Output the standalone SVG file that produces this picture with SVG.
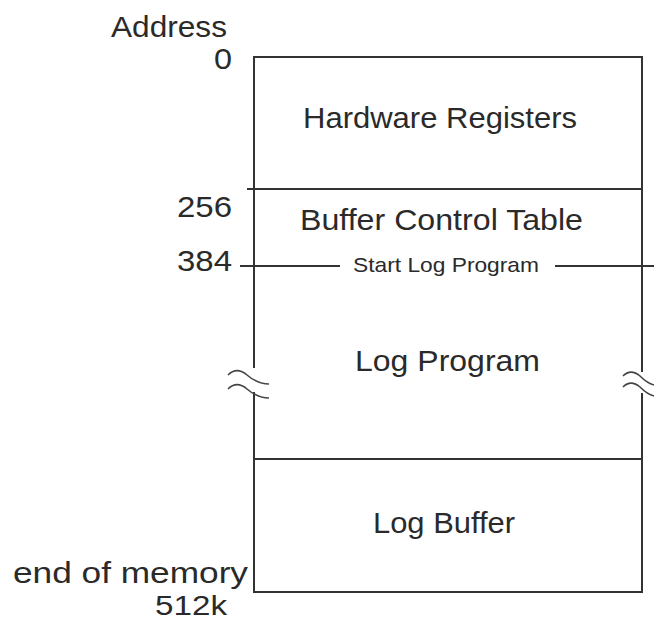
<svg xmlns="http://www.w3.org/2000/svg" width="654" height="623" viewBox="0 0 654 623">
  <style>
    .t { font-family: "Liberation Sans", Arial, sans-serif; font-size: 30px; fill: #2a2a2a; }
    .s { font-size: 21px; }
    .ln { stroke: #333; stroke-width: 2; fill: none; }
    .wave { stroke: #444; stroke-width: 1.6; fill: none; }
  </style>
  <rect width="654" height="623" fill="#fff"/>

  <!-- address labels -->
  <g id="addresses">
    <text class="t" x="111" y="37" textLength="116" lengthAdjust="spacingAndGlyphs">Address</text>
    <text class="t" x="214" y="69" textLength="18" lengthAdjust="spacingAndGlyphs">0</text>
    <text class="t" x="177" y="217" textLength="55" lengthAdjust="spacingAndGlyphs">256</text>
    <text class="t" x="177" y="271" textLength="55" lengthAdjust="spacingAndGlyphs">384</text>
    <text class="t" x="13" y="583" textLength="235" lengthAdjust="spacingAndGlyphs">end of memory</text>
    <text class="t" x="155" y="615" style="font-size:28px" textLength="72" lengthAdjust="spacingAndGlyphs">512k</text>
  </g>

  <!-- memory map outline -->
  <g id="memory-map">
    <path class="ln" d="M254 368 V57 H642 V372"/>
    <path class="ln" d="M254 392 V592 H642 V393"/>
  </g>

  <g id="hardware-registers">
    <text class="t" x="303" y="128" textLength="274" lengthAdjust="spacingAndGlyphs">Hardware Registers</text>
  </g>

  <g id="buffer-control-table">
    <line class="ln" x1="247" y1="189" x2="642" y2="189"/>
    <text class="t" x="300" y="230" textLength="283" lengthAdjust="spacingAndGlyphs">Buffer Control Table</text>
  </g>

  <g id="log-program">
    <line class="ln" x1="240" y1="266" x2="340" y2="266"/>
    <line class="ln" x1="555" y1="266" x2="654" y2="266"/>
    <text class="t s" x="353" y="272" textLength="186" lengthAdjust="spacingAndGlyphs">Start Log Program</text>
    <text class="t" x="355" y="371" textLength="185" lengthAdjust="spacingAndGlyphs">Log Program</text>
  </g>

  <g id="log-buffer">
    <line class="ln" x1="254" y1="459" x2="642" y2="459"/>
    <text class="t" x="373" y="533" textLength="142" lengthAdjust="spacingAndGlyphs">Log Buffer</text>
  </g>

  <!-- break marks on the sides of the Log Program region -->
  <g id="breaks">
    <path class="wave" d="M228 375 C234 369 240 369 247 375 C254 381 261 384 269 384"/>
    <path class="wave" d="M228 389 C234 383 240 383 247 389 C254 395 261 398 269 398"/>
    <path class="wave" d="M623 376 C628 371 634 371 640 376 C645 381 650 384 654 385"/>
    <path class="wave" d="M623 387 C628 382 634 382 640 387 C645 392 650 395 654 396"/>
  </g>
</svg>
